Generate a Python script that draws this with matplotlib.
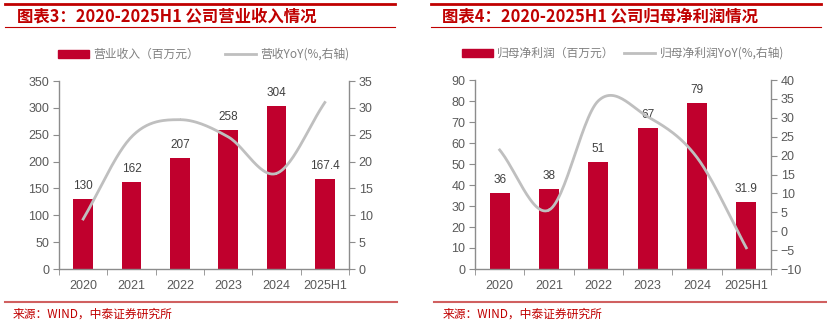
import numpy as np
import matplotlib
matplotlib.use("Agg")
import matplotlib.pyplot as plt
from matplotlib.patches import Patch
from matplotlib.lines import Line2D

plt.rcParams['font.family'] = ['Liberation Sans', 'Noto Sans CJK SC', 'DejaVu Sans']

# 数据
years = ['2020', '2021', '2022', '2023', '2024', '2025H1']
revenue = [130, 162, 207, 258, 304, 167.4]
revenue_yoy = [9.3, 24.6, 27.8, 24.6, 17.8, 31.0]
profit = [36, 38, 51, 67, 79, 31.9]
profit_yoy = [21.5, 5.6, 34.5, 30.3, 19.5, -4.4]

BAR = '#C0002D'
LINE = '#BFBFBF'
RED = '#C00000'
AXIS = '#8C8C8C'
TXT = '#595959'
CJK = ['Noto Sans CJK SC', 'DejaVu Sans']

W, H = 827, 327
fig = plt.figure(figsize=(W / 100, H / 100), dpi=100)


def box(x0, y0, x1, y1):
    # 像素坐标 -> figure 坐标
    return [x0 / W, 1 - y1 / H, (x1 - x0) / W, (y1 - y0) / H]


def hline(x0, x1, y, color, lw):
    fig.add_artist(Line2D([x0 / W, x1 / W], [1 - y / H, 1 - y / H],
                          color=color, lw=lw, transform=fig.transFigure))


def smooth(x, y, n=30):
    # Catmull-Rom 平滑曲线（类似 Excel 平滑线）
    x = np.asarray(x, float)
    y = np.asarray(y, float)
    px = np.concatenate([[2 * x[0] - x[1]], x, [2 * x[-1] - x[-2]]])
    py = np.concatenate([[2 * y[0] - y[1]], y, [2 * y[-1] - y[-2]]])
    xs, ys = [], []
    t = np.linspace(0, 1, n)
    for i in range(1, len(px) - 2):
        for p, out in ((px, xs), (py, ys)):
            p0, p1, p2, p3 = p[i - 1], p[i], p[i + 1], p[i + 2]
            out.extend(0.5 * (2 * p1 + (-p0 + p2) * t
                              + (2 * p0 - 5 * p1 + 4 * p2 - p3) * t ** 2
                              + (-p0 + 3 * p1 - 3 * p2 + p3) * t ** 3))
    return xs, ys


def panel(rect, bars, yoy, bar_name, line_name, ylim1, ystep1, ylim2, ystep2, legend_gap):
    ax = fig.add_axes(rect)
    x = np.arange(len(years))
    ax.bar(x, bars, width=0.4, color=BAR, zorder=2)
    for xi, v in zip(x, bars):
        ax.annotate(f'{v:g}', (xi, v), xytext=(0, 5), textcoords='offset points',
                    ha='center', va='bottom', fontsize=8.5, color='#404040')
    ax.set_xlim(-0.5, len(years) - 0.5)
    ax.set_ylim(*ylim1)
    ax.set_yticks(np.arange(ylim1[0], ylim1[1] + 0.1, ystep1))
    ax.set_xticks(x)
    ax.set_xticklabels(years)
    ax.set_xticks(np.arange(-0.5, len(years)), minor=True)
    ax.tick_params(axis='x', which='major', length=0, pad=8, labelsize=9, labelcolor=TXT)
    ax.tick_params(axis='x', which='minor', length=4, color=AXIS, direction='out')
    ax.tick_params(axis='y', length=4, color=AXIS, labelsize=9, labelcolor=TXT, pad=3)
    ax.spines['top'].set_visible(False)
    ax.spines['right'].set_visible(False)
    for s in ('left', 'bottom'):
        ax.spines[s].set_color(AXIS)
        ax.spines[s].set_linewidth(1)

    ax2 = ax.twinx()
    sx, sy = smooth(x, yoy)
    ax2.plot(sx, sy, color=LINE, lw=2, zorder=3)
    ax2.set_ylim(*ylim2)
    ax2.set_yticks(np.arange(ylim2[0], ylim2[1] + 0.1, ystep2))
    ax2.tick_params(axis='y', length=4, color=AXIS, labelsize=9, labelcolor=TXT, pad=3)
    for s in ('top', 'left', 'bottom'):
        ax2.spines[s].set_visible(False)
    ax2.spines['right'].set_color(AXIS)
    ax2.spines['right'].set_linewidth(1)

    handles = [Patch(color=BAR), Line2D([], [], color=LINE, lw=2)]
    ax.legend(handles, [bar_name, line_name], ncol=2, frameon=False,
              loc='lower center', bbox_to_anchor=(0.5, 1.05), handlelength=2.6,
              handleheight=0.6, handletextpad=0.4, columnspacing=legend_gap,
              prop={'family': CJK, 'size': 8.5}, labelcolor='#808080')
    return ax


# 左图：营业收入
hline(5, 395, 4, RED, 2)
fig.text(17 / W, 1 - 16 / H, '图表3：2020-2025H1 公司营业收入情况', color=RED,
         fontsize=11.8, fontweight='bold', style='italic', family=CJK, va='center')
hline(5, 395, 27, RED, 0.8)
panel(box(59, 81, 349, 269), revenue, revenue_yoy, '营业收入（百万元）', '营收YoY(%,右轴)',
      (0, 350), 50, (0, 35), 5, 2.2)
hline(5, 397, 302, '#D06060', 1.5)
fig.text(13 / W, 1 - 314 / H, '来源：WIND，中泰证券研究所', color=RED, fontsize=8.5,
         family=CJK, va='center')

# 右图：归母净利润
hline(431, 821, 4, RED, 2)
fig.text(442 / W, 1 - 16 / H, '图表4：2020-2025H1 公司归母净利润情况', color=RED,
         fontsize=11.8, fontweight='bold', style='italic', family=CJK, va='center')
hline(431, 821, 27, RED, 0.8)
panel(box(475, 80, 771, 269), profit, profit_yoy, '归母净利润（百万元）', '归母净利润YoY(%,右轴)',
      (0, 90), 10, (-10, 40), 5, 0.8)
hline(434, 826, 302, '#D06060', 1.5)
fig.text(443 / W, 1 - 314 / H, '来源：WIND，中泰证券研究所', color=RED, fontsize=8.5,
         family=CJK, va='center')

fig.savefig('out.png', dpi=100, facecolor='white')
